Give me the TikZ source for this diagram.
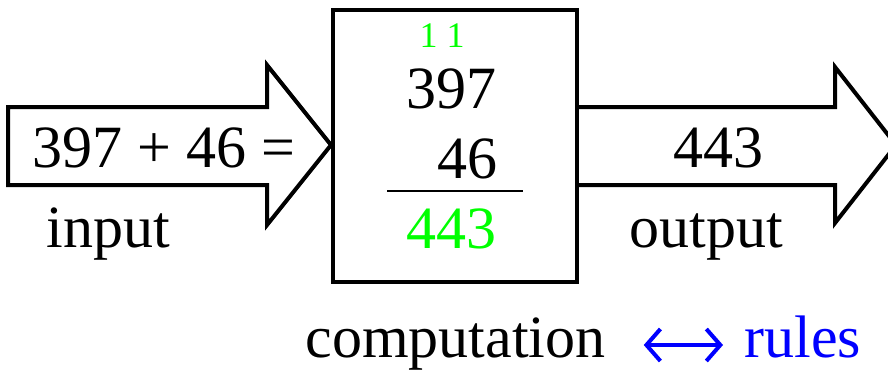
\documentclass[tikz,border=0pt]{standalone}
\usepackage{fontspec}
\setmainfont{Liberation Serif}
\usetikzlibrary{arrows.meta}

\begin{document}
\begin{tikzpicture}[
  x=0.5pt,y=-0.5pt,
  font=\fontsize{30}{36}\selectfont,
  bigarrow/.style={line width=2pt,line join=miter,fill=white},
  compbox/.style={draw,line width=2pt,minimum width=122pt,minimum height=136pt,inner sep=0pt},
  txt/.style={anchor=base,inner sep=0pt},
  digits/.style={anchor=base east,inner sep=0pt},
  carry/.style={anchor=base,inner sep=0pt,text=green,font=\fontsize{18}{22}\selectfont},
  link/.style={{Straight Barb[length=7pt,width=16pt,line width=2pt]}-{Straight Barb[length=7pt,width=16pt,line width=2pt]},
               line width=1.8pt,blue},
]
\clip (0,0) rectangle (888,371);
% ---------- computation box ----------
\node[compbox] (calc) at (455,146) {};
\node[carry] (carries) at (442,47) {1 1};
\node[digits] (top) at (497,108) {397};
\node[digits] (bot) at (498,178) {46};
\coordinate (rulel) at (387,191);
\coordinate (ruler) at (523,191);
\draw[line width=1pt] (rulel) -- (ruler);
\node[digits,text=green] (sum) at (497,248) {443};
% ---------- input arrow ----------
\draw[bigarrow] (8,107) -- (267,107) -- (267,65) -- (calc.west |- 0,145)
  -- (267,225) -- (267,185) -- (8,185) -- cycle;
\node[txt] (expr) at (164,167) {397 + 46 =};
\node[txt] (inlbl) at (108,247) {input};
% ---------- output arrow ----------
\draw[bigarrow] (calc.east |- 0,107) -- (835,107) -- (835,67) -- (896,145)
  -- (835,223) -- (835,185) -- (calc.east |- 0,185);
\node[txt] (res) at (718,167) {443};
\node[txt] (outlbl) at (706,247) {output};
% ---------- bottom caption ----------
\node[txt,anchor=base west] (comp) at (305,357) {computation};
\node[txt,anchor=base west,text=blue] (rules) at (744,357) {rules};
\draw[link] ([xshift=19pt]comp.base east |- 0,345) -- ([xshift=-10.5pt]rules.base west |- 0,345);
\end{tikzpicture}
\end{document}
